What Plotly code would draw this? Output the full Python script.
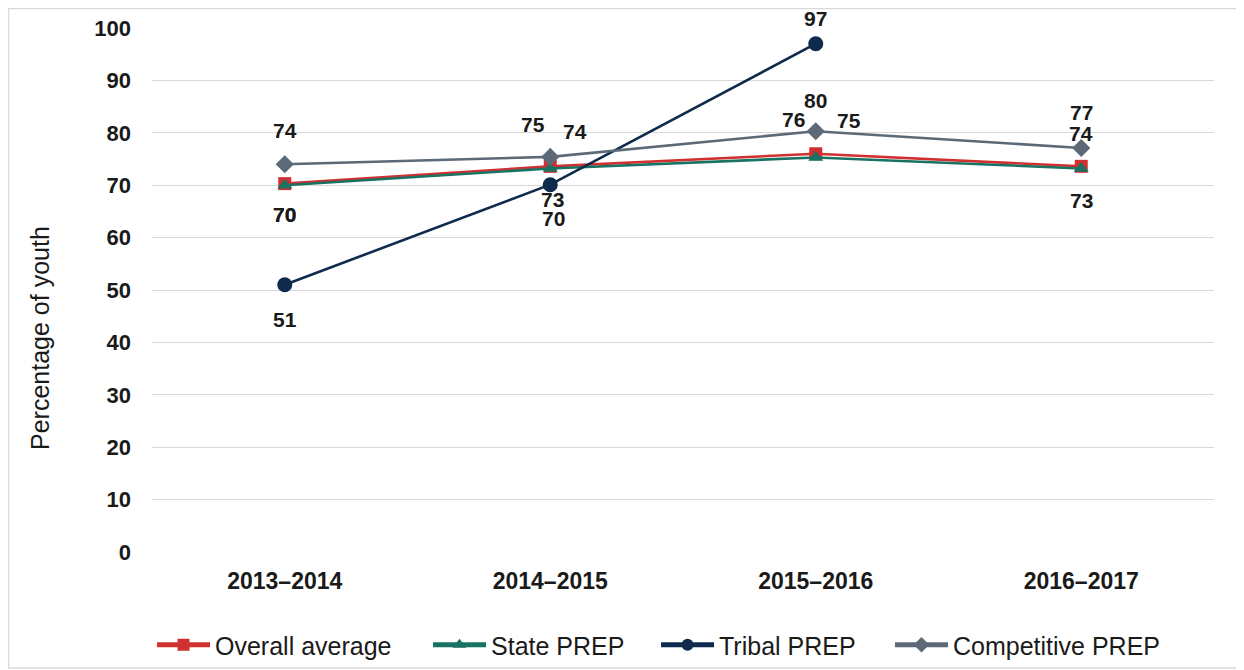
import plotly.graph_objects as go

categories = ["2013–2014", "2014–2015", "2015–2016", "2016–2017"]
overall_average = [70.3, 73.6, 76.0, 73.6]
state_prep = [70.0, 73.2, 75.3, 73.2]
tribal_prep = [51.0, 70.1, 97.0, None]
competitive_prep = [74.0, 75.4, 80.3, 77.1]
y_ticks = [0, 10, 20, 30, 40, 50, 60, 70, 80, 90, 100]
y_title = "Percentage of youth"

series = [
    ("Overall average", overall_average, "#D0302F", "square", 13),
    ("State PREP", state_prep, "#1A7262", "triangle-up", 13),
    ("Tribal PREP", tribal_prep, "#0E2A4C", "circle", 15),
    ("Competitive PREP", competitive_prep, "#5C6977", "diamond", 14),
]

# label offsets in pixels (xshift, yshift) per series per category
label_offsets = {
    "Overall average": [(0, -31), (25, 35), (-22, 34), (0, 33)],
    "State PREP": [(0, -29.4), (2, -31), (33, 37), (0, -32)],
    "Tribal PREP": [(0, -35), (3, -34), (0, 25), None],
    "Competitive PREP": [(0, 34), (-17, 32), (0, 31), (0, 36)],
}
# legend box left edges (paper x) for each series
legend_x = [0.0, 0.2599, 0.4746, 0.6949]

FONT = "Liberation Sans, Arial, sans-serif"

fig = go.Figure()
annotations = []
legend_layouts = {}
for k, (name, vals, color, symbol, size) in enumerate(series):
    lg = "legend" if k == 0 else f"legend{k + 1}"
    fig.add_trace(go.Scatter(
        x=categories, y=vals, name=name, mode="lines+markers",
        line=dict(color=color, width=2.6),
        marker=dict(symbol=symbol, size=size, color=color),
        connectgaps=False, legend=lg,
    ))
    legend_layouts[lg] = dict(
        orientation="h", x=legend_x[k], xanchor="left", y=-0.1775, yanchor="middle",
        font=dict(family=FONT, size=25, color="#1a1a1a"),
        itemsizing="constant", itemwidth=53, bgcolor="rgba(0,0,0,0)",
    )
    for i, v in enumerate(vals):
        if v is None:
            continue
        off = label_offsets[name][i]
        annotations.append(dict(
            x=categories[i], y=v, text=f"{v:.0f}", showarrow=False,
            xshift=off[0], yshift=off[1],
            font=dict(family=FONT, size=21, color="#1a1a1a", weight="bold"),
        ))

annotations.append(dict(
    text=y_title, xref="paper", yref="paper", x=-0.1055, y=0.4084,
    xanchor="center", yanchor="middle", textangle=-90, showarrow=False,
    font=dict(family=FONT, size=25, color="#1a1a1a"),
))

fig.update_layout(
    width=1236, height=662,
    paper_bgcolor="white", plot_bgcolor="white",
    margin=dict(l=144, r=30, t=20, b=118, autoexpand=False),
    font=dict(family=FONT, color="#1a1a1a"),
    annotations=annotations,
    showlegend=True,
    shapes=[dict(type="rect", xref="paper", yref="paper",
                 x0=-0.1351, x1=1.0254, y0=-0.2214, y1=1.0372,
                 line=dict(color="#D9D9D9", width=1.5))],
    **legend_layouts,
)
fig.update_xaxes(
    type="category", range=[-0.5, 3.5], showgrid=False, showline=False,
    zeroline=False, ticks="", ticklabelstandoff=13, automargin=False,
    tickfont=dict(family=FONT, size=23, color="#1a1a1a", weight="bold"),
)
fig.update_yaxes(
    range=[0, 100], tickvals=y_ticks, showgrid=True, gridcolor="#D9D9D9",
    gridwidth=1.3, zeroline=False, showline=False, ticks="",
    ticklabelstandoff=20, automargin=False,
    tickfont=dict(family=FONT, size=22, color="#1a1a1a", weight="bold"),
)

fig.write_html("out.html")
